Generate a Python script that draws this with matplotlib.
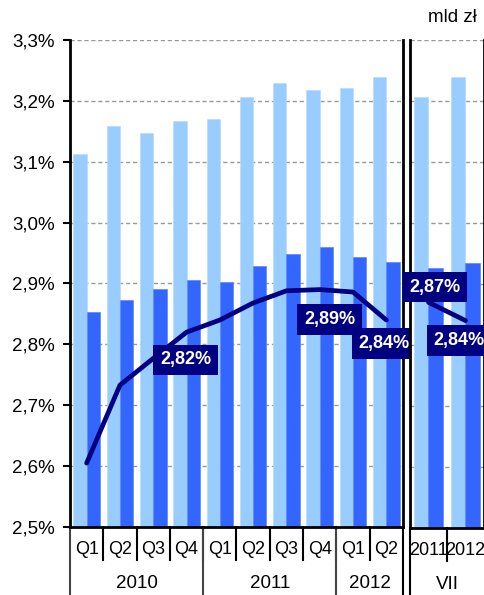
import matplotlib
matplotlib.use('Agg')
import matplotlib.pyplot as plt
import matplotlib.ticker as ticker
import numpy as np

plt.rcParams['font.family'] = ['Liberation Sans', 'DejaVu Sans']

# dane kwartalne 2010 - 2012
quarters = ['Q1', 'Q2', 'Q3', 'Q4', 'Q1', 'Q2', 'Q3', 'Q4', 'Q1', 'Q2']
years = ['2010', '2011', '2012']
year_spans = [4, 4, 2]
light_vals = [3.113, 3.159, 3.148, 3.167, 3.171, 3.206, 3.229, 3.218, 3.221, 3.239]
dark_vals = [2.854, 2.873, 2.891, 2.905, 2.903, 2.928, 2.949, 2.960, 2.944, 2.935]
line_vals = [2.605, 2.733, 2.777, 2.82, 2.84, 2.868, 2.888, 2.89, 2.886, 2.84]
labeled_idx = [3, 7, 9]
label_offsets = [(-0.7, -20), (7, -21.5), (-1.4, -17)]

# dane za lipiec
vii_cats = ['2011', '2012']
vii_light = [3.206, 3.239]
vii_dark = [2.926, 2.935]
vii_line = [2.87, 2.84]
vii_offsets = [(4.7, 11), (-4.5, -14.4)]

light_c = '#99CCFF'
dark_c = '#3366FF'
navy = '#000080'

fig = plt.figure(figsize=(4.85, 5.95), dpi=100, facecolor='white')
ax = fig.add_axes([70 / 485, 68 / 595, 333 / 485, 487 / 595])
ax2 = fig.add_axes([410 / 485, 67 / 595, 74 / 485, 488 / 595])


def pct(x, pos):
    return ('%.1f%%' % x).replace('.', ',')


def style(a):
    a.set_ylim(2.5, 3.3)
    a.yaxis.set_major_locator(ticker.MultipleLocator(0.1))
    a.grid(axis='y', color='#999999', linestyle=(0, (3, 2)), linewidth=1)
    a.set_axisbelow(True)
    a.spines['top'].set_visible(False)
    for s in ['left', 'right', 'bottom']:
        a.spines[s].set_linewidth(2)
    a.set_xticks([])


def draw_panel(a, n, light, dark, line, idx, offsets):
    x = np.arange(n)
    a.bar(x - 0.2, light, width=0.4, color=light_c, edgecolor='#B8DCFF', linewidth=0.5, zorder=2)
    a.bar(x + 0.2, dark, width=0.4, color=dark_c, edgecolor='#5C85FF', linewidth=0.5, zorder=2)
    a.plot(x, line, color=navy, linewidth=3.4, solid_capstyle='round', solid_joinstyle='round', zorder=3)
    for i, off in zip(idx, offsets):
        a.annotate(('%.2f%%' % line[i]).replace('.', ','), (x[i], line[i]), xytext=off,
                   textcoords='offset points', ha='center', va='center', color='white',
                   fontsize=13, fontweight='bold', zorder=5, annotation_clip=False,
                   bbox=dict(boxstyle='square,pad=0.38', fc=navy, ec='none'))
    a.set_xlim(-0.5, n - 0.5)


style(ax)
style(ax2)
draw_panel(ax, len(quarters), light_vals, dark_vals, line_vals, labeled_idx, label_offsets)
draw_panel(ax2, len(vii_cats), vii_light, vii_dark, vii_line, [0, 1], vii_offsets)

ax.yaxis.set_major_formatter(ticker.FuncFormatter(pct))
ax.tick_params(axis='y', labelsize=13.5, length=5, width=1.5, pad=6)
ax2.tick_params(axis='y', left=False, labelleft=False)

# opis osi x: kwartały i lata
trans = ax.get_xaxis_transform()
for i, q in enumerate(quarters):
    ax.text(i, -0.047, q, transform=trans, ha='center', va='center', fontsize=13)
for i in range(1, len(quarters)):
    ax.plot([i - 0.5, i - 0.5], [0, -0.068], transform=trans, color='black', lw=1.5, clip_on=False)
start = 0
for y, span in zip(years, year_spans):
    ax.text(start + span / 2 - 0.5, -0.115, y, transform=trans, ha='center', va='center', fontsize=13.5)
    ax.plot([start - 0.5, start - 0.5], [0, -0.15], transform=trans, color='#444444', lw=1.5, clip_on=False)
    start += span
ax.plot([start - 0.5, start - 0.5], [0, -0.15], transform=trans, color='black', lw=1.5, clip_on=False)

trans2 = ax2.get_xaxis_transform()
for i, c in enumerate(vii_cats):
    ax2.text(i, -0.047, c, transform=trans2, ha='center', va='center', fontsize=13)
ax2.plot([0.5, 0.5], [0, -0.068], transform=trans2, color='black', lw=1.5, clip_on=False)
ax2.plot([-0.5, -0.5], [0, -0.15], transform=trans2, color='black', lw=1.5, clip_on=False)
ax2.text(0.5, -0.115, 'VII', transform=trans2, ha='center', va='center', fontsize=13.5)

fig.text(452 / 485, 1 - 18 / 595, 'mld zł', ha='center', va='center', fontsize=13.5)

fig.savefig('out.png', dpi=100, facecolor='white')
